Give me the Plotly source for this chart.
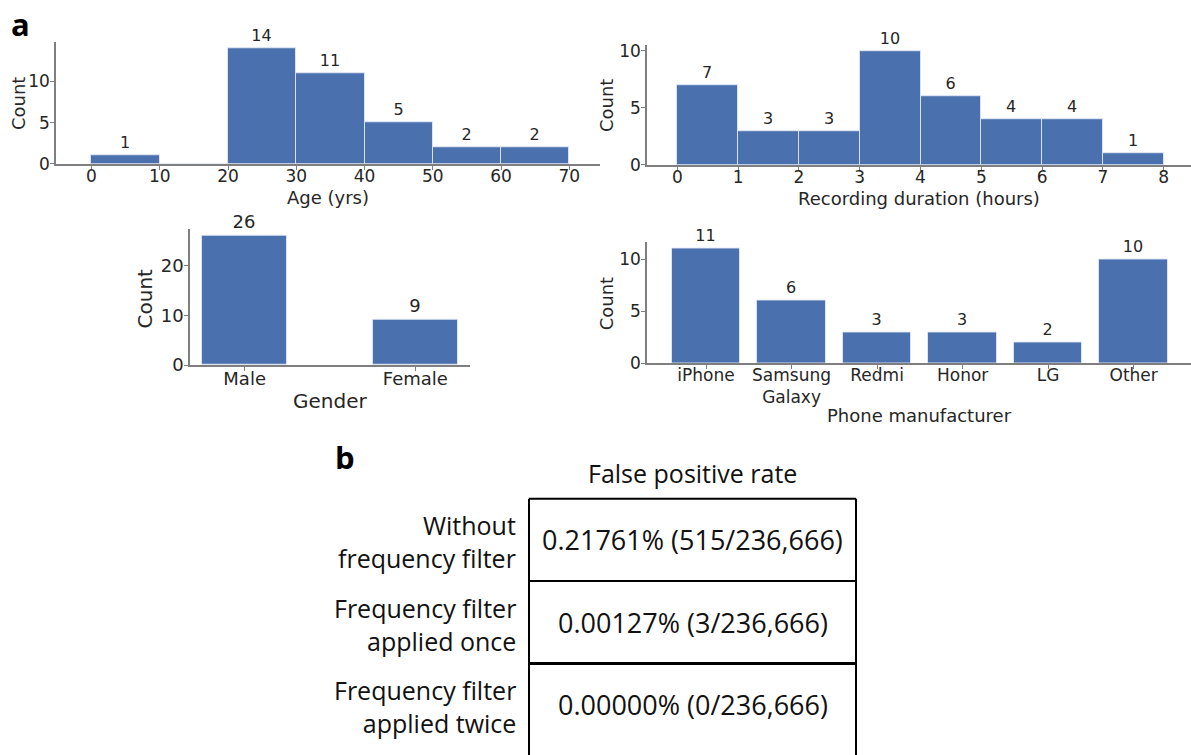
import plotly.graph_objects as go

W, H = 1191, 755

# ---------------- data ----------------
age_edges = [0, 10, 20, 30, 40, 50, 60, 70]
age_counts = [1, 0, 14, 11, 5, 2, 2]

dur_edges = [0, 1, 2, 3, 4, 5, 6, 7, 8]
dur_counts = [7, 3, 3, 10, 6, 4, 4, 1]

gender_cats = ["Male", "Female"]
gender_counts = [26, 9]

phone_cats = ["iPhone", "Samsung<br>Galaxy", "Redmi", "Honor", "LG", "Other"]
phone_counts = [11, 6, 3, 3, 2, 10]

axis_titles = ["Age (yrs)", "Recording duration (hours)", "Gender", "Phone manufacturer"]
count_title = "Count"

table_header = "False positive rate"
row_labels = ["Without<br>frequency filter",
              "Frequency filter<br>applied once",
              "Frequency filter<br>applied twice"]
row_values = ["0.21761% (515/236,666)",
              "0.00127% (3/236,666)",
              "0.00000% (0/236,666)"]

# ---------------- style ----------------
BAR = "#4a70ae"
EDGE = "rgba(225,232,245,0.9)"
AX = "#7f7f7f"
TXT = "#262626"
FONT = "DejaVu Sans"
TFONT = "Open Sans"


def X(px):
    return px / W


def Y(py):
    return 1 - py / H


fig = go.Figure()


def hist_bar(edges, counts, xa, ya, size):
    lefts = edges[:-1]
    widths = [edges[i + 1] - edges[i] for i in range(len(counts))]
    txt = [str(c) if c > 0 else "" for c in counts]
    fig.add_trace(go.Bar(
        x=lefts, y=counts, width=widths, offset=0,
        marker=dict(color=BAR, line=dict(color=EDGE, width=1)),
        text=txt, textposition="outside", cliponaxis=False,
        textfont=dict(family=FONT, size=size, color=TXT),
        xaxis=xa, yaxis=ya, showlegend=False, hoverinfo="skip"))


def cat_bar(cats, counts, xa, ya, width, size):
    fig.add_trace(go.Bar(
        x=cats, y=counts, width=width,
        marker=dict(color=BAR, line=dict(color=EDGE, width=1)),
        text=[str(c) for c in counts], textposition="outside", cliponaxis=False,
        textfont=dict(family=FONT, size=size, color=TXT),
        xaxis=xa, yaxis=ya, showlegend=False, hoverinfo="skip"))


hist_bar(age_edges, age_counts, "x", "y", 16)
hist_bar(dur_edges, dur_counts, "x2", "y2", 16)
cat_bar(gender_cats, gender_counts, "x3", "y3", 0.5, 18)
cat_bar(phone_cats, phone_counts, "x4", "y4", 0.8, 16)


def xax(dom, rng, tickfont, anchor, dtick=None):
    d = dict(domain=dom, range=rng, anchor=anchor, showgrid=False, zeroline=False,
             showline=True, linecolor=AX, linewidth=1.5, ticks="outside",
             ticklen=4, tickcolor=AX, tickwidth=1.2, ticklabelstandoff=-8,
             tickfont=dict(family=FONT, size=tickfont, color=TXT))
    if dtick is not None:
        d["dtick"] = dtick
        d["tick0"] = 0
    return d


def yax(dom, rng, dtick, tickfont, anchor):
    return dict(domain=dom, range=rng, anchor=anchor, showgrid=False, zeroline=False,
                showline=True, linecolor=AX, linewidth=1.5, ticks="outside",
                ticklen=4, tickcolor=AX, tickwidth=1.2, dtick=dtick, tick0=0,
                ticklabelstandoff=-3,
                tickfont=dict(family=FONT, size=tickfont, color=TXT))


layout = dict(
    width=W, height=H, margin=dict(l=0, r=0, t=0, b=0),
    paper_bgcolor="white", plot_bgcolor="white", bargap=0,
    xaxis=xax([X(56), X(600)], [-5.2, 74.5], 17, "y", 10),
    yaxis=yax([Y(163), Y(39)], [0, 14.76], 5, 17, "x"),
    xaxis2=xax([X(647), X(1191)], [-0.5, 8.45], 17, "y2", 1),
    yaxis2=yax([Y(164), Y(42)], [0, 10.5], 5, 17, "x2"),
    xaxis3=xax([X(190), X(470)], [-0.32, 1.32], 18, "y3"),
    yaxis3=yax([Y(368), Y(229)], [0, 27.3], 10, 18, "x3"),
    xaxis4=xax([X(647), X(1191)], [-0.69, 5.67], 17, "y4"),
    yaxis4=yax([Y(366), Y(243)], [0, 11.6], 5, 17, "x4"),
)
fig.update_layout(**layout)

annotations = []

# axis titles (x titles, then y "Count" titles)
xt_pos = [(328, 197, 18), (919, 198, 18), (330, 404, 20), (919, 419, 18)]
yt_pos = [(18, 102, 18), (606, 104, 18), (145, 300, 20), (606, 306, 18)]
for t, (px, py, fs) in zip(axis_titles, xt_pos):
    annotations.append(dict(text=t, x=X(px), y=Y(py), xref="paper", yref="paper",
                            showarrow=False, xanchor="center", yanchor="middle",
                            font=dict(family=FONT, size=fs, color=TXT)))
for (px, py, fs) in yt_pos:
    annotations.append(dict(text=count_title, x=X(px), y=Y(py), xref="paper", yref="paper",
                            showarrow=False, xanchor="center", yanchor="middle", textangle=-90,
                            font=dict(family=FONT, size=fs, color=TXT)))

# panel letters
annotations.append(dict(text="<b>a</b>", x=X(20), y=Y(20), xref="paper", yref="paper",
                        showarrow=False, xanchor="center", yanchor="middle",
                        font=dict(family=TFONT, size=31, color="black")))
annotations.append(dict(text="<b>b</b>", x=X(345), y=Y(462), xref="paper", yref="paper",
                        showarrow=False, xanchor="center", yanchor="middle",
                        font=dict(family=TFONT, size=31, color="black")))

# table
tab_left, tab_right, tab_top, row_h = 529, 856, 504, 84
annotations.append(dict(text=table_header, x=X((tab_left + tab_right) / 2), y=Y(478),
                        xref="paper", yref="paper", showarrow=False,
                        xanchor="center", yanchor="middle",
                        font=dict(family=TFONT, size=25, color="#111")))
shapes = []
for i, (lab, val) in enumerate(zip(row_labels, row_values)):
    cy = tab_top + row_h * (i + 0.5)
    annotations.append(dict(text=val, x=X((tab_left + tab_right) / 2), y=Y(cy),
                            xref="paper", yref="paper", showarrow=False,
                            xanchor="center", yanchor="middle",
                            font=dict(family=TFONT, size=27, color="#111")))
    annotations.append(dict(text=lab, x=X(518), y=Y(cy + 2), xref="paper", yref="paper",
                            showarrow=False, xanchor="right", yanchor="middle", align="right",
                            font=dict(family=TFONT, size=25, color="#111")))
    lw = 3 if i == 2 else 2
    shapes.append(dict(type="line", xref="paper", yref="paper",
                       x0=X(tab_left), x1=X(tab_right),
                       y0=Y(tab_top + row_h * i), y1=Y(tab_top + row_h * i),
                       line=dict(color="black", width=lw)))
for xv in (tab_left, tab_right):
    shapes.append(dict(type="line", xref="paper", yref="paper",
                       x0=X(xv), x1=X(xv), y0=Y(tab_top), y1=Y(tab_top + row_h * 3 + 10),
                       line=dict(color="black", width=2)))

fig.update_layout(annotations=annotations, shapes=shapes)
fig.write_html("out.html")
